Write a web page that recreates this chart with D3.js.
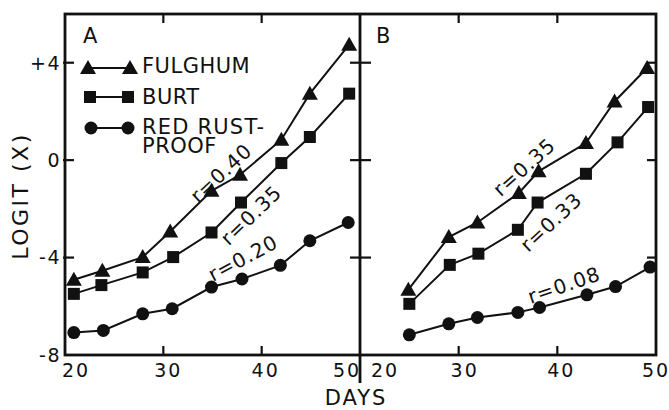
<!DOCTYPE html>
<html>
<head>
<meta charset="utf-8">
<script src="https://cdn.jsdelivr.net/npm/d3@7"></script>
<style>
  html, body { margin: 0; padding: 0; background: #fff; }
  svg { display: block; }
  text { font-family: "DejaVu Sans", sans-serif; fill: #111; }
</style>
</head>
<body>
<svg id="chart" width="669" height="410"></svg>
<script>
// ---- Data ----
const yTicks = [4, 0, -4, -8];
const yTickLabels = ["+4", "0", "-4", "-8"];
const xTicks = [20, 30, 40, 50];
const xTickLabels = ["20", "30", "40", "50"];

// Panel A
const fulghumA_days = [20.9, 23.8, 27.9, 30.7, 34.9, 37.8, 42.0, 44.9, 48.9];
const fulghumA_logit = [-4.91, -4.54, -3.98, -2.93, -1.26, -0.6, 0.84, 2.73, 4.74];
const burtA_days = [20.9, 23.7, 27.9, 31.0, 34.9, 37.9, 42.0, 44.9, 48.9];
const burtA_logit = [-5.49, -5.13, -4.61, -3.98, -2.97, -1.74, -0.12, 0.95, 2.73];
const redA_days = [20.9, 23.9, 27.9, 30.9, 34.9, 38.0, 41.9, 44.9, 48.8];
const redA_logit = [-7.08, -6.99, -6.31, -6.1, -5.21, -4.88, -4.32, -3.31, -2.56];

// Panel B
const fulghumB_days = [24.9, 29.0, 31.9, 36.1, 38.1, 42.9, 45.8, 49.1];
const fulghumB_logit = [-5.32, -3.16, -2.56, -1.35, -0.46, 0.7, 2.41, 3.78];
const burtB_days = [25.0, 29.1, 32.0, 36.0, 38.0, 42.9, 46.1, 49.2];
const burtB_logit = [-5.9, -4.3, -3.84, -2.86, -1.74, -0.56, 0.73, 2.18];
const redB_days = [25.0, 29.0, 31.9, 36.0, 38.2, 43.0, 45.9, 49.4];
const redB_logit = [-7.17, -6.72, -6.46, -6.25, -6.05, -5.53, -5.19, -4.39];

const legendNames = ["FULGHUM", "BURT", "RED RUST-", "PROOF"];
const rateLabelsA = ["r=0.40", "r=0.35", "r=0.20"];
const rateLabelsB = ["r=0.35", "r=0.33", "r=0.08"];

// ---- Layout ----
const svg = d3.select("#chart");
const pTop = 14, pBottom = 355, pLeft = 65, pMid = 360, pRight = 656;

const y = d3.scaleLinear().domain([-8, 6]).range([pBottom, pTop]);
const xA = d3.scaleLinear().domain([20, 50]).range([pLeft, pMid]);
const xB = d3.scaleLinear().domain([20, 50]).range([pMid, pRight]);

const ink = "#111";

// Frame
const frame = svg.append("g").attr("fill", "none").attr("stroke", ink).attr("stroke-width", 2.8);
frame.append("rect").attr("x", pLeft).attr("y", pTop).attr("width", pRight - pLeft).attr("height", pBottom - pTop);
frame.append("line").attr("x1", pMid).attr("x2", pMid).attr("y1", pTop).attr("y2", 383);

// Ticks
const tk = svg.append("g").attr("stroke", ink).attr("stroke-width", 2.2);
[4, 0, -4].forEach(v => {
  tk.append("line").attr("x1", pLeft - 2).attr("x2", pLeft + 9).attr("y1", y(v)).attr("y2", y(v));
  tk.append("line").attr("x1", pMid - 10).attr("x2", pMid + 11).attr("y1", y(v)).attr("y2", y(v));
  tk.append("line").attr("x1", pRight - 9).attr("x2", pRight).attr("y1", y(v)).attr("y2", y(v));
});
[30, 40].forEach(d => {
  [xA, xB].forEach(sc => {
    tk.append("line").attr("x1", sc(d)).attr("x2", sc(d)).attr("y1", pTop).attr("y2", pTop + 9);
    tk.append("line").attr("x1", sc(d)).attr("x2", sc(d)).attr("y1", pBottom).attr("y2", pBottom - 9);
  });
});

// Y tick labels
yTicks.forEach((v, i) => {
  svg.append("text").attr("x", 61).attr("y", y(v)).attr("dy", "0.36em")
    .attr("text-anchor", "end").attr("font-size", 19).attr("letter-spacing", 1.5)
    .text(yTickLabels[i]);
});
// X tick labels
const xOffA = [11, 5, 4, -13];
const xOffB = [25, 6, 4, 0];
xTicks.forEach((d, i) => {
  svg.append("text").attr("x", xA(d) + xOffA[i]).attr("y", 377)
    .attr("text-anchor", "middle").attr("font-size", 19).attr("letter-spacing", 2).text(xTickLabels[i]);
  svg.append("text").attr("x", xB(d) + xOffB[i]).attr("y", 377)
    .attr("text-anchor", "middle").attr("font-size", 19).attr("letter-spacing", 2).text(xTickLabels[i]);
});

// Axis titles
svg.append("text").attr("x", 356).attr("y", 405).attr("text-anchor", "middle")
  .attr("font-size", 21).attr("letter-spacing", 2).text("DAYS");
svg.append("text").attr("transform", "translate(28,196) rotate(-90)").attr("text-anchor", "middle")
  .attr("font-size", 22).attr("letter-spacing", 2.5).text("LOGIT (X)");

// Panel letters
svg.append("text").attr("x", 83).attr("y", 43).attr("font-size", 21).text("A");
svg.append("text").attr("x", 376).attr("y", 43).attr("font-size", 21).text("B");

// Markers
function marker(g, type, cx, cy) {
  if (type === "tri") {
    const s = 8;
    g.append("path").attr("d", `M${cx},${cy - s}L${cx + s},${cy + s * 0.75}L${cx - s},${cy + s * 0.75}Z`).attr("fill", ink);
  } else if (type === "sq") {
    g.append("rect").attr("x", cx - 6).attr("y", cy - 6).attr("width", 12).attr("height", 12).attr("fill", ink);
  } else {
    g.append("circle").attr("cx", cx).attr("cy", cy).attr("r", 6.5).attr("fill", ink);
  }
}

function series(xs, days, vals, type) {
  const g = svg.append("g");
  const pts = days.map((d, i) => [xs(d), y(vals[i])]);
  g.append("path").attr("d", d3.line()(pts)).attr("fill", "none").attr("stroke", ink).attr("stroke-width", 2);
  pts.forEach(p => marker(g, type, p[0], p[1]));
}

series(xA, fulghumA_days, fulghumA_logit, "tri");
series(xA, burtA_days, burtA_logit, "sq");
series(xA, redA_days, redA_logit, "circ");
series(xB, fulghumB_days, fulghumB_logit, "tri");
series(xB, burtB_days, burtB_logit, "sq");
series(xB, redB_days, redB_logit, "circ");

// Legend
const lg = svg.append("g");
const legRows = [{t: "tri", yy: 68, a: 88, b: 130}, {t: "sq", yy: 97, a: 90, b: 128}, {t: "circ", yy: 128, a: 91, b: 128}];
legRows.forEach((r, i) => {
  lg.append("line").attr("x1", r.a).attr("x2", r.b).attr("y1", r.yy).attr("y2", r.yy).attr("stroke", ink).attr("stroke-width", 2);
  marker(lg, r.t, r.a, r.yy);
  marker(lg, r.t, r.b, r.yy);
});
lg.append("text").attr("x", 142).attr("y", 73).attr("font-size", 21).attr("letter-spacing", 0.5).text(legendNames[0]);
lg.append("text").attr("x", 142).attr("y", 104).attr("font-size", 21).attr("letter-spacing", 0.5).text(legendNames[1]);
lg.append("text").attr("x", 142).attr("y", 134).attr("font-size", 21).attr("letter-spacing", 1.2).text(legendNames[2]);
lg.append("text").attr("x", 142).attr("y", 153).attr("font-size", 21).attr("letter-spacing", 0.5).text(legendNames[3]);

// Rate annotations
const annA = [{cx: 221, cy: 173, a: -43}, {cx: 251, cy: 215, a: -44}, {cx: 243, cy: 258, a: -28}];
const annB = [{cx: 524, cy: 167, a: -42}, {cx: 551, cy: 222, a: -43}, {cx: 564, cy: 285, a: -19}];
function ann(list, labels) {
  list.forEach((p, i) => {
    svg.append("text").attr("transform", `translate(${p.cx},${p.cy}) rotate(${p.a})`)
      .attr("text-anchor", "middle").attr("dy", "0.36em").attr("font-size", 20).attr("letter-spacing", 1)
      .text(labels[i]);
  });
}
ann(annA, rateLabelsA);
ann(annB, rateLabelsB);
</script>
</body>
</html>
